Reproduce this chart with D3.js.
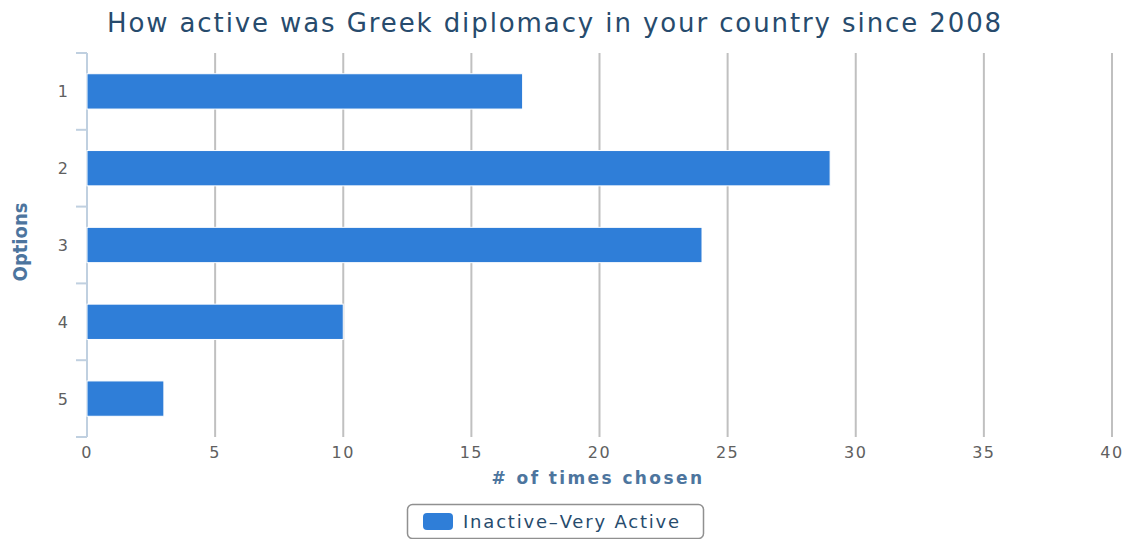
<!DOCTYPE html>
<html>
<head>
<meta charset="utf-8">
<script src="https://cdn.jsdelivr.net/npm/d3@7"></script>
<style>
  body { margin: 0; background: #fff; }
  svg { font-family: "DejaVu Sans", Verdana, sans-serif; }
</style>
</head>
<body>
<div id="chart"></div>
<script>
// donnees du graphique
const options = ["1", "2", "3", "4", "5"];
const timesChosen = [17, 29, 24, 10, 3];
const xTicks = [0, 5, 10, 15, 20, 25, 30, 35, 40];
const seriesName = "Inactive\u2013Very Active";

const width = 1128, height = 539;
const margin = { top: 53, right: 16, bottom: 102, left: 87 };

const svg = d3.select("#chart")
    .append("svg")
    .attr("width", width)
    .attr("height", height);

const x = d3.scaleLinear()
    .domain([0, 40])
    .range([margin.left, width - margin.right]);

const y = d3.scaleBand()
    .domain(options)
    .range([margin.top, height - margin.bottom])
    .paddingInner(0.54)
    .paddingOuter(0.27);

// titre
svg.append("text")
    .attr("x", 555)
    .attr("y", 32)
    .attr("text-anchor", "middle")
    .style("font-size", "26px")
    .style("letter-spacing", "1.9px")
    .style("fill", "#274b6d")
    .text("How active was Greek diplomacy in your country since 2008");

// grille verticale
svg.append("g")
    .selectAll("line")
    .data(xTicks.slice(1))
    .join("line")
    .attr("x1", d => x(d)).attr("x2", d => x(d))
    .attr("y1", margin.top).attr("y2", height - margin.bottom)
    .attr("stroke", "#c0c0c0")
    .attr("stroke-width", 2);

// axe y (ligne + traits entre les categories)
const yAxis = svg.append("g");
yAxis.append("line")
    .attr("x1", margin.left).attr("x2", margin.left)
    .attr("y1", margin.top).attr("y2", height - margin.bottom)
    .attr("stroke", "#c0d0e0")
    .attr("stroke-width", 2);

const step = (height - margin.bottom - margin.top) / options.length;
yAxis.selectAll("line.tick")
    .data(d3.range(options.length + 1))
    .join("line")
    .attr("class", "tick")
    .attr("x1", margin.left - 11).attr("x2", margin.left)
    .attr("y1", i => margin.top + i * step).attr("y2", i => margin.top + i * step)
    .attr("stroke", "#c0d0e0")
    .attr("stroke-width", 2);

yAxis.selectAll("text")
    .data(options)
    .join("text")
    .attr("x", 68)
    .attr("y", d => y(d) + y.bandwidth() / 2 + 6)
    .attr("text-anchor", "end")
    .style("font-size", "16px")
    .style("fill", "#606060")
    .text(d => d);

// titre axe y
svg.append("text")
    .attr("transform", `translate(27, ${(margin.top + height - margin.bottom) / 2 - 3}) rotate(-90)`)
    .attr("text-anchor", "middle")
    .style("font-family", "'DejaVu Sans Condensed', 'Liberation Sans Narrow', sans-serif")
    .style("font-stretch", "condensed")
    .style("font-weight", "bold")
    .style("font-size", "20px")
    .style("fill", "#4d759e")
    .text("Options");

// barres
svg.append("g")
    .selectAll("rect")
    .data(timesChosen)
    .join("rect")
    .attr("x", x(0))
    .attr("y", (d, i) => y(options[i]))
    .attr("width", d => x(d) - x(0))
    .attr("height", y.bandwidth())
    .attr("fill", "#2f7ed8")
    .attr("stroke", "#fff")
    .attr("stroke-width", 1);

// axe x
svg.append("g")
    .selectAll("text")
    .data(xTicks)
    .join("text")
    .attr("x", d => x(d))
    .attr("y", 458)
    .attr("text-anchor", "middle")
    .style("font-size", "16px")
    .style("letter-spacing", "1.5px")
    .style("fill", "#606060")
    .text(d => d);

svg.append("text")
    .attr("x", 598)
    .attr("y", 484)
    .attr("text-anchor", "middle")
    .style("font-weight", "bold")
    .style("font-size", "17px")
    .style("letter-spacing", "2.4px")
    .style("fill", "#4d759e")
    .text("# of times chosen");

// legende
const legend = svg.append("g");
legend.append("rect")
    .attr("x", 407.5).attr("y", 504.5)
    .attr("width", 296).attr("height", 34)
    .attr("rx", 5)
    .attr("fill", "#fff")
    .attr("stroke", "#909090")
    .attr("stroke-width", 1.5);
legend.append("rect")
    .attr("x", 423).attr("y", 513)
    .attr("width", 30).attr("height", 17)
    .attr("rx", 4)
    .attr("fill", "#2f7ed8");
legend.append("text")
    .attr("x", 463).attr("y", 528)
    .style("font-size", "18px")
    .style("letter-spacing", "1.8px")
    .style("fill", "#274b6d")
    .text(seriesName);
</script>
</body>
</html>
